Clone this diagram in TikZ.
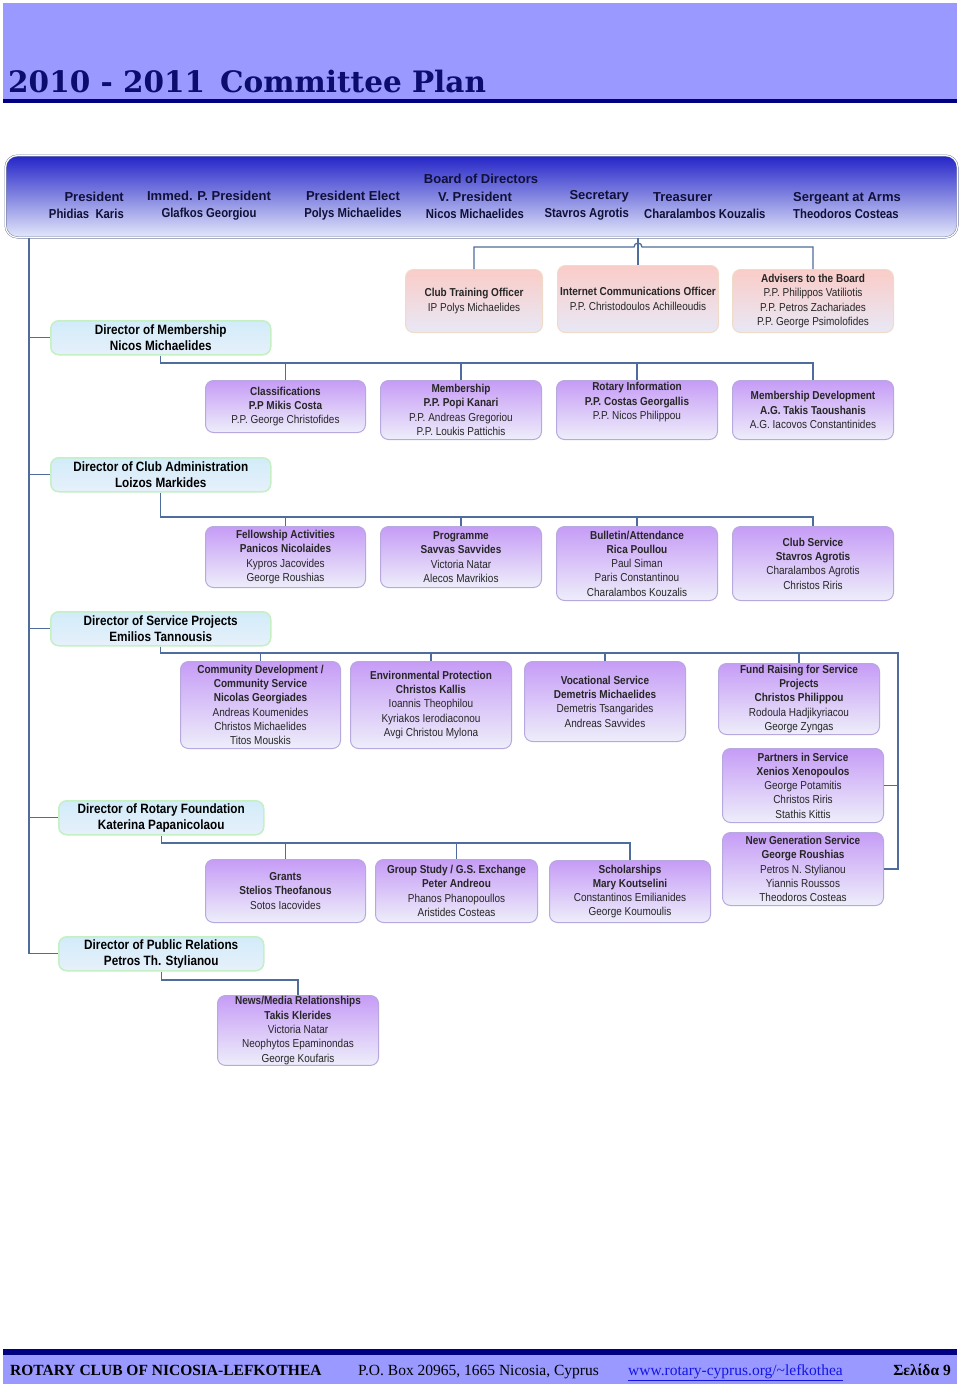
\documentclass[tikz,border=0pt]{standalone}
\usepackage{fontspec}
\setmainfont{Liberation Sans}
\newfontfamily\orgfont[FakeStretch=0.87]{Liberation Sans}
\newfontfamily\titlefont{DejaVu Serif}
\newfontfamily\footfont{Liberation Serif}
\usepackage{tikz}
\usetikzlibrary{positioning, calc}

\definecolor{band}{RGB}{153,153,255}
\definecolor{navy}{RGB}{0,0,128}
\definecolor{titleblue}{RGB}{12,12,110}
\definecolor{linkblue}{RGB}{78,108,156}
\definecolor{boardtop}{RGB}{36,36,200}
\definecolor{boardmid}{RGB}{128,138,228}
\definecolor{boardbot}{RGB}{228,232,250}
\definecolor{boardedge}{RGB}{100,110,150}
\definecolor{boardtext}{RGB}{16,16,56}
\definecolor{pinktop}{RGB}{250,204,200}
\definecolor{pinkbot}{RGB}{232,232,246}
\definecolor{pinkedge}{RGB}{240,218,200}
\definecolor{dirtop}{RGB}{210,236,250}
\definecolor{dirbot}{RGB}{230,240,250}
\definecolor{diredge}{RGB}{196,240,196}
\definecolor{cmtop}{RGB}{198,156,246}
\definecolor{cmbot}{RGB}{238,238,250}
\definecolor{cmedge}{RGB}{184,168,224}
\definecolor{urlblue}{RGB}{20,20,230}

\newcommand{\bname}[1]{{\orgfont\bfseries #1}}

\tikzset{
    link/.style={draw=linkblue, line width=1.3pt},
    board/.style={draw=boardedge, double=white, double distance=1.2pt,
        rounded corners=12pt, top color=boardtop, middle color=boardmid,
        bottom color=boardbot, minimum width=952pt, minimum height=82pt},
    boardtxt/.style={font=\bfseries\fontsize{13}{17.5}\selectfont,
        text=boardtext, inner sep=0pt},
    officer/.style={draw=pinkedge, line width=1pt, rounded corners=8pt,
        top color=pinktop, bottom color=pinkbot, minimum width=161pt,
        align=center, inner sep=1pt, anchor=north west, text=black!85,
        font=\orgfont\fontsize{11.5}{14.3}\selectfont},
    director/.style={draw=diredge, line width=1.5pt, rounded corners=8pt,
        top color=dirtop, bottom color=dirbot, minimum width=220pt,
        minimum height=34pt, align=center, inner sep=1pt, anchor=north west,
        font=\orgfont\bfseries\fontsize{13.5}{16}\selectfont},
    cmte/.style={draw=cmedge, line width=1pt, rounded corners=8pt,
        top color=cmtop, bottom color=cmbot, minimum width=161pt,
        align=center, inner sep=1pt, anchor=north west, text=black!85,
        font=\orgfont\fontsize{11.5}{14.3}\selectfont},
    beside/.style={right=14pt of #1.north east, anchor=north west},
    foot/.style={font=\footfont\fontsize{15.5}{18}\selectfont, anchor=base west,
        inner sep=0pt}
}

\begin{document}
\begin{tikzpicture}[x=1pt, y=-1pt]
    \useasboundingbox (0,0) rectangle (960,1387);

    % header and footer bands
    \fill[band] (3,3) rectangle (957,100);
    \fill[navy] (3,99) rectangle (957,103);
    \node[anchor=base west, inner sep=0pt, text=titleblue,
        font=\titlefont\bfseries\fontsize{29.5}{32}\selectfont] (title)
        at (8,92) {2010 - 2011\hspace{15pt}Committee Plan};
    \fill[navy] (3,1349) rectangle (957,1355);
    \fill[band] (3,1355) rectangle (957,1384);
    \node[foot] (club) at (10,1375) {\bfseries ROTARY CLUB OF NICOSIA-LEFKOTHEA};
    \node[foot] (pobox) at (358,1375) {P.O. Box 20965, 1665 Nicosia, Cyprus};
    \node[foot, text=urlblue] (url) at (628,1375) {\underline{www.rotary-cyprus.org/\char`\~lefkothea}};
    \node[foot, anchor=base east] (page) at (951,1375) {\bfseries Σελίδα 9};

    % board of directors
    \node[board] (board) at (481.5,196.5) {};
    \node[boardtxt] (bod) at (481,179) {Board of Directors};
    \node[boardtxt, align=right, anchor=east] (pres) at (124,205.5) {President\\\bname{Phidias\ \ Karis}};
    \node[boardtxt, align=center] (ipp) at (209,205.5) {Immed. P. President\\\bname{Glafkos Georgiou}};
    \node[boardtxt, align=center] (pel) at (353,205.5) {President Elect\\\bname{Polys Michaelides}};
    \node[boardtxt, align=center] (vp) at (475,205.5) {V. President\\\bname{Nicos Michaelides}};
    \node[boardtxt, align=right, anchor=east] (sec) at (629,205.5) {Secretary\\\bname{Stavros Agrotis}};
    \node[boardtxt, align=left, anchor=west] (trs) at (644,205.5) {\hspace{9pt}Treasurer\\\bname{Charalambos Kouzalis}};
    \node[boardtxt, align=left, anchor=west] (sgt) at (793,205.5) {Sergeant at Arms\\\bname{Theodoros Costeas}};

    % officers
    \node[officer, minimum width=137pt, minimum height=63pt] (cto) at (405,269)
        {\textbf{Club Training Officer}\\IP Polys Michaelides};
    \node[officer, minimum height=67pt] (ico) at (557,265)
        {\textbf{Internet Communications Officer}\\P.P. Christodoulos Achilleoudis};
    \node[officer, minimum height=63pt] (adv) at (732,269)
        {\textbf{Advisers to the Board}\\P.P. Philippos Vatiliotis\\P.P. Petros Zachariades\\P.P. George Psimolofides};

    % directors
    \node[director] (dmem) at (50,320) {Director of Membership\\Nicos Michaelides};
    \node[director] (dadm) at (50,457) {Director of Club Administration\\Loizos Markides};
    \node[director] (dsvc) at (50,611) {Director of Service Projects\\Emilios Tannousis};
    \node[director, minimum width=205pt] (drf) at (58,800) {Director of Rotary Foundation\\Katerina Papanicolaou};
    \node[director, minimum width=205pt] (dpr) at (58,936) {Director of Public Relations\\Petros Th. Stylianou};

    % membership committees
    \node[cmte, minimum width=160pt, minimum height=52pt] (cls) at (205,380)
        {\textbf{Classifications}\\\textbf{P.P Mikis Costa}\\P.P. George Christofides};
    \node[cmte, minimum height=59pt, beside=cls] (mbr)
        {\textbf{Membership}\\\textbf{P.P. Popi Kanari}\\P.P. Andreas Gregoriou\\P.P. Loukis Pattichis};
    \node[cmte, minimum height=59pt, beside=mbr] (rin)
        {\textbf{Rotary Information}\\\textbf{P.P. Costas Georgallis}\\P.P. Nicos Philippou\\[4pt]};
    \node[cmte, minimum height=59pt, beside=rin] (mdev)
        {\textbf{Membership Development}\\\textbf{A.G. Takis Taoushanis}\\A.G. Iacovos Constantinides};

    % club administration committees
    \node[cmte, minimum width=160pt, minimum height=61pt] (fel) at (205,526)
        {\textbf{Fellowship Activities}\\\textbf{Panicos Nicolaides}\\Kypros Jacovides\\George Roushias};
    \node[cmte, minimum height=61pt, beside=fel] (prg)
        {\textbf{Programme}\\\textbf{Savvas Savvides}\\Victoria Natar\\Alecos Mavrikios};
    \node[cmte, minimum height=74pt, beside=prg] (bul)
        {\textbf{Bulletin/Attendance}\\\textbf{Rica Poullou}\\Paul Siman\\Paris Constantinou\\Charalambos Kouzalis};
    \node[cmte, minimum height=74pt, beside=bul] (csv)
        {\textbf{Club Service}\\\textbf{Stavros Agrotis}\\Charalambos Agrotis\\Christos Riris};

    % service projects committees
    \node[cmte, minimum width=160pt, minimum height=87pt] (cdv) at (180,661)
        {\textbf{Community Development /}\\\textbf{Community Service}\\\textbf{Nicolas Georgiades}\\Andreas Koumenides\\Christos Michaelides\\Titos Mouskis};
    \node[cmte, minimum height=87pt] (env) at (350,661)
        {\textbf{Environmental Protection}\\\textbf{Christos Kallis}\\Ioannis Theophilou\\Kyriakos Ierodiaconou\\Avgi Christou Mylona};
    \node[cmte, minimum height=80pt] (voc) at (524,661)
        {\textbf{Vocational Service}\\\textbf{Demetris Michaelides}\\Demetris Tsangarides\\Andreas Savvides};
    \node[cmte, minimum height=71pt] (fun) at (718,663)
        {\textbf{Fund Raising for Service}\\\textbf{Projects}\\\textbf{Christos Philippou}\\Rodoula Hadjikyriacou\\George Zyngas};
    \node[cmte, minimum height=74pt] (pis) at (722,748)
        {\textbf{Partners in Service}\\\textbf{Xenios Xenopoulos}\\George Potamitis\\Christos Riris\\Stathis Kittis};
    \node[cmte, minimum height=73pt] (ngs) at (722,832)
        {\textbf{New Generation Service}\\\textbf{George Roushias}\\Petros N. Stylianou\\Yiannis Roussos\\Theodoros Costeas};

    % rotary foundation committees
    \node[cmte, minimum width=160pt, minimum height=63pt] (gra) at (205,859)
        {\textbf{Grants}\\\textbf{Stelios Theofanous}\\Sotos Iacovides};
    \node[cmte, minimum width=162pt, minimum height=63pt] (gse) at (375,859)
        {\textbf{Group Study / G.S. Exchange}\\\textbf{Peter Andreou}\\Phanos Phanopoullos\\Aristides Costeas};
    \node[cmte, minimum height=62pt] (sch) at (549,860)
        {\textbf{Scholarships}\\\textbf{Mary Koutselini}\\Constantinos Emilianides\\George Koumoulis};

    % public relations committee
    \node[cmte, minimum height=68pt] (nmr) at (217,995)
        {\textbf{News/Media Relationships}\\\textbf{Takis Klerides}\\Victoria Natar\\Neophytos Epaminondas\\George Koufaris};

    % connectors
    \coordinate (spinex) at (29,0);
    \coordinate (rspine) at (898,0);
    \coordinate (obus) at (0,247);
    \coordinate (mbus) at (0,363);
    \coordinate (abus) at (0,517);
    \coordinate (sbus) at (0,653);
    \coordinate (fbus) at (0,843);
    \coordinate (pbus) at (0,980);

    \draw[link] (board.south -| spinex) |- (dpr.west);
    \foreach \d in {dmem,dadm,dsvc,drf}
        \draw[link] (spinex |- \d.west) -- (\d.west);

    \draw[link] (board.south -| ico.north) -- (ico.north);
    \draw[link] (cto.north) |- ($(obus -| ico.north)+(-4,0)$)
        arc[start angle=180, end angle=0, radius=4pt] -| (adv.north);

    \draw[link] (dmem.south) |- (mbus -| mdev.north) -- (mdev.north);
    \foreach \c in {cls,mbr,rin}
        \draw[link] (mbus -| \c.north) -- (\c.north);

    \draw[link] (dadm.south) |- (abus -| csv.north) -- (csv.north);
    \foreach \c in {fel,prg,bul}
        \draw[link] (abus -| \c.north) -- (\c.north);

    \draw[link] (dsvc.south) |- (sbus -| rspine) |- (ngs.east);
    \foreach \c in {cdv,env,voc,fun}
        \draw[link] (sbus -| \c.north) -- (\c.north);
    \draw[link] (rspine |- pis.east) -- (pis.east);

    \draw[link] (drf.south) |- (fbus -| sch.north) -- (sch.north);
    \foreach \c in {gra,gse}
        \draw[link] (fbus -| \c.north) -- (\c.north);

    \draw[link] (dpr.south) |- (pbus -| nmr.north) -- (nmr.north);
\end{tikzpicture}
\end{document}
